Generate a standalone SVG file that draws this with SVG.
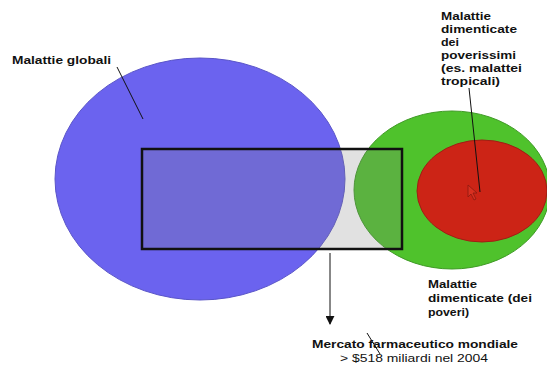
<svg xmlns="http://www.w3.org/2000/svg" width="547" height="365" viewBox="0 0 547 365">
<style>
text{font-family:"Liberation Sans",Arial,sans-serif;fill:#111}
.b{font-weight:bold;font-size:11.8px}
.n{font-size:11.8px}
.ln{stroke:#111;stroke-width:1;fill:none}
</style>
<defs>
<marker id="ah" viewBox="0 0 10 10" refX="9" refY="5" markerWidth="9" markerHeight="9" markerUnits="userSpaceOnUse" orient="auto">
<path d="M0,0 L10,5 L0,10 Z" fill="#111"/>
</marker>
</defs>
<rect width="547" height="365" fill="#fff"/>
<g id="globali">
<ellipse cx="200" cy="179" rx="145" ry="121" fill="#6b63ef" stroke="#5a55c8" stroke-width="1"/>
<text class="b" x="12" y="64" textLength="99" lengthAdjust="spacingAndGlyphs">Malattie globali</text>
</g>
<g id="poveri">
<ellipse cx="452" cy="190" rx="98" ry="79" fill="#4fc22c" stroke="#3f9a25" stroke-width="1"/>
<text class="b" x="428" y="288" textLength="49" lengthAdjust="spacingAndGlyphs">Malattie</text>
<text class="b" x="428" y="302" textLength="104" lengthAdjust="spacingAndGlyphs">dimenticate (dei</text>
<text class="b" x="428" y="316" textLength="41" lengthAdjust="spacingAndGlyphs">poveri)</text>
</g>
<g id="poverissimi">
<ellipse cx="482" cy="191" rx="65" ry="51" fill="#cc2416" stroke="#a01e14" stroke-width="1"/>
<path d="M468,185 L468,197 L471,194 L474,200 L476,199 L473,193 L477,193 Z" fill="#d83020" stroke="#8a1a10" stroke-width="0.8"/>
<text class="b" x="441" y="20" textLength="50" lengthAdjust="spacingAndGlyphs">Malattie</text>
<text class="b" x="441" y="33" textLength="76" lengthAdjust="spacingAndGlyphs">dimenticate</text>
<text class="b" x="441" y="46" textLength="18" lengthAdjust="spacingAndGlyphs">dei</text>
<text class="b" x="441" y="59" textLength="75" lengthAdjust="spacingAndGlyphs">poverissimi</text>
<text class="b" x="441" y="72" textLength="81" lengthAdjust="spacingAndGlyphs">(es. malattei</text>
<text class="b" x="441" y="85" textLength="59" lengthAdjust="spacingAndGlyphs">tropicali)</text>
</g>
<g id="mercato">
<rect x="142" y="149" width="260" height="100" fill="#808080" fill-opacity="0.24" stroke="#111" stroke-width="2.5"/>
<text class="b" x="312" y="348" textLength="206" lengthAdjust="spacingAndGlyphs">Mercato farmaceutico mondiale</text>
<text class="n" x="340" y="362" textLength="148" lengthAdjust="spacingAndGlyphs">&gt; $518 miliardi nel 2004</text>
</g>
<g id="connectors">
<line class="ln" x1="117" y1="67" x2="143" y2="119"/>
<line class="ln" x1="469" y1="88" x2="480" y2="192"/>
<line class="ln" x1="330" y1="253" x2="330" y2="324" marker-end="url(#ah)"/>
<line class="ln" x1="367" y1="333" x2="380" y2="354"/>
</g>
</svg>
